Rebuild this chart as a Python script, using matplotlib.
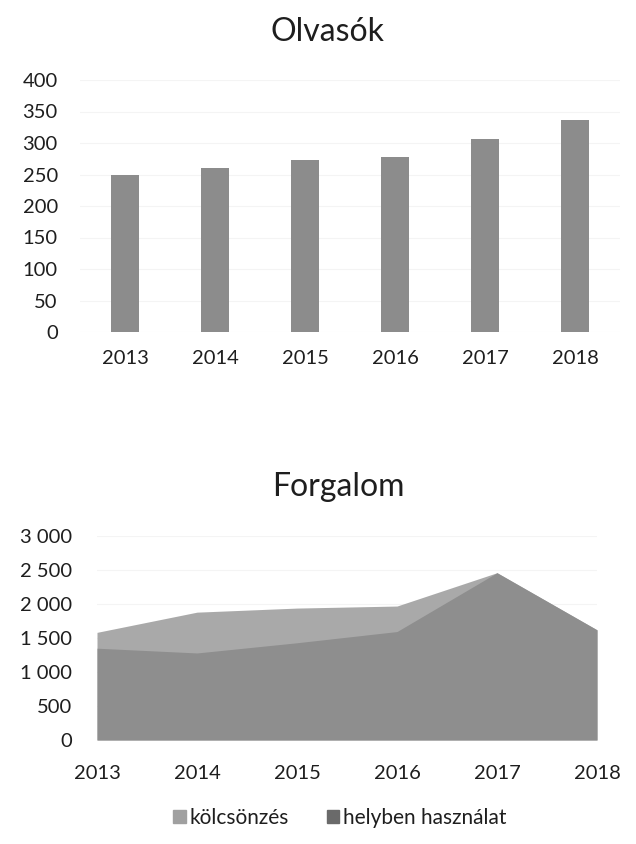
import matplotlib
matplotlib.use("Agg")
import matplotlib.pyplot as plt
from matplotlib.patches import Patch
import numpy as np

plt.rcParams['font.family'] = ['Lato', 'DejaVu Sans']

years = ['2013', '2014', '2015', '2016', '2017', '2018']
olvasok = [250, 261, 273, 278, 306, 336]

forg_years = [2013, 2014, 2015, 2016, 2017, 2018]
kolcsonzes = [1583, 1880, 1940, 1970, 2460, 1620]
helyben = [1350, 1280, 1430, 1595, 2460, 1620]

olv_ticks = [0, 50, 100, 150, 200, 250, 300, 350, 400]
forg_ticks = [0, 500, 1000, 1500, 2000, 2500, 3000]
forg_labels = ['0', '500', '1 000', '1 500', '2 000', '2 500', '3 000']

W, H = 636, 844
fig = plt.figure(figsize=(W / 100, H / 100), dpi=100)
txt = '#1e1e1e'
fs = 14.5

# --- Top chart: bars
ax1 = fig.add_axes([80 / W, 1 - 332 / H, 540 / W, 252 / H])
x = np.arange(len(years))
ax1.bar(x, olvasok, width=0.31, color='#8c8c8c')
ax1.set_xlim(-0.5, len(years) - 0.5)
ax1.set_ylim(0, 400)
ax1.set_yticks(olv_ticks)
ax1.set_xticks(x)
ax1.set_xticklabels(years)
ax1.yaxis.grid(True, color='#f4f4f4', linewidth=0.8)
ax1.set_axisbelow(True)
for s in ax1.spines.values():
    s.set_visible(False)
ax1.tick_params(axis='both', length=0, labelsize=fs, colors=txt)
ax1.tick_params(axis='y', pad=16)
ax1.tick_params(axis='x', pad=13)
fig.text(328 / W, 1 - 32 / H, 'Olvasók', ha='center', va='center', fontsize=23, color=txt)

# --- Bottom chart: overlapping areas
ax2 = fig.add_axes([97 / W, 1 - 740 / H, 500 / W, 204 / H])
ax2.fill_between(forg_years, 0, kolcsonzes, color='#a9a9a9', linewidth=0)
ax2.fill_between(forg_years, 0, helyben, color='#8e8e8e', linewidth=0)
ax2.set_xlim(2013, 2018)
ax2.set_ylim(0, 3000)
ax2.set_yticks(forg_ticks)
ax2.set_yticklabels(forg_labels)
ax2.set_xticks(forg_years)
ax2.set_xticklabels(years)
ax2.yaxis.grid(True, color='#f4f4f4', linewidth=0.8)
ax2.set_axisbelow(True)
for s in ax2.spines.values():
    s.set_visible(False)
ax2.tick_params(axis='both', length=0, labelsize=fs, colors=txt)
ax2.tick_params(axis='y', pad=18)
ax2.tick_params(axis='x', pad=18)
fig.text(338 / W, 1 - 487 / H, 'Forgalom', ha='center', va='center', fontsize=23, color=txt)

handles = [Patch(color='#a0a0a0', label='kölcsönzés'),
           Patch(color='#6a6a6a', label='helyben használat')]
fig.legend(handles=handles, loc='center', bbox_to_anchor=(340 / W, 1 - 818 / H),
           ncol=2, frameon=False, fontsize=15, handlelength=0.6, handleheight=0.6,
           handletextpad=0.2, columnspacing=1.8, labelcolor=txt)

fig.savefig('out.png', dpi=100, facecolor='white')
